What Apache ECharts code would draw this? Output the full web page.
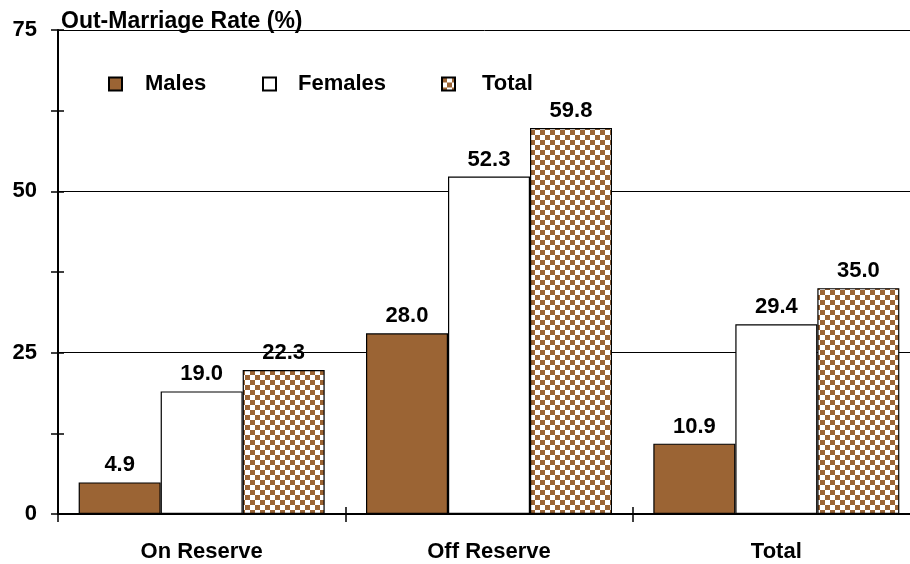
<!DOCTYPE html>
<html>
<head>
<meta charset="utf-8">
<script src="https://cdn.jsdelivr.net/npm/echarts@6/dist/echarts.min.js"></script>
<style>html,body{margin:0;padding:0;background:#fff}#c{width:910px;height:564px}</style>
</head>
<body>
<div id="c"></div>
<script>
const categories = ['On Reserve', 'Off Reserve', 'Total'];
const males = [4.9, 28.0, 10.9];
const females = [19.0, 52.3, 29.4];
const totals = [22.3, 59.8, 35.0];
const yTicks = [0, 25, 50, 75];
const seriesNames = ['Males', 'Females', 'Total'];

const BROWN = '#9B6434';
const FONT = 'Liberation Sans, Arial, sans-serif';

const pc = document.createElement('canvas');
pc.width = 10; pc.height = 10;
const g = pc.getContext('2d');
g.fillStyle = '#fff'; g.fillRect(0, 0, 10, 10);
g.fillStyle = BROWN; g.fillRect(0, 0, 5, 5); g.fillRect(5, 5, 5, 5);
const pattern = { image: pc, repeat: 'repeat' };

const chart = echarts.init(document.getElementById('c'), null, { renderer: 'canvas' });
const label = { show: true, position: 'top', distance: 6, color: '#000', fontFamily: FONT, fontWeight: 'bold', fontSize: 22, formatter: p => p.value.toFixed(1) };
const border = { borderColor: '#000', borderWidth: 1.2 };

const legendPos = [[103, 18], [257, 17], [436, 22]];
const legends = seriesNames.map((n, i) => ({
  left: legendPos[i][0], top: 68, itemWidth: 13, itemHeight: 13, icon: 'rect',
  textStyle: { fontFamily: FONT, fontWeight: 'bold', fontSize: 22, color: '#000', padding: [0, 0, 0, legendPos[i][1]] },
  data: [{ name: n, itemStyle: { borderColor: '#000', borderWidth: 2 } }]
}));

chart.setOption({
  animation: false,
  backgroundColor: '#fff',
  title: { text: 'Out-Marriage Rate (%)', left: 56, top: 5, textStyle: { fontFamily: FONT, fontWeight: 'bold', fontSize: 23, color: '#000' } },
  legend: legends,
  grid: { left: 58, top: 30, width: 862, bottom: 50, containLabel: false, outerBoundsMode: 'none' },
  xAxis: [
    { type: 'category', data: categories, boundaryGap: true,
      axisLine: { lineStyle: { color: '#000', width: 2 } },
      axisTick: { show: true, length: 8, lineStyle: { color: '#000', width: 1.5 } },
      axisLabel: { margin: 27, color: '#000', fontFamily: FONT, fontWeight: 'bold', fontSize: 22 } },
    { type: 'category', data: categories, position: 'bottom', boundaryGap: true,
      axisLine: { show: false },
      axisTick: { show: true, inside: true, length: 7, lineStyle: { color: '#000', width: 1.5 } },
      axisLabel: { show: false } }
  ],
  yAxis: [
    { type: 'value', min: 0, max: 75, interval: 25,
      axisLine: { show: true, lineStyle: { color: '#000', width: 2 } },
      axisTick: { show: false },
      splitLine: { show: true, lineStyle: { color: '#000', width: 1 } },
      axisLabel: { margin: 21, color: '#000', fontFamily: FONT, fontWeight: 'bold', fontSize: 22,
        formatter: v => yTicks.includes(v) ? String(v) : '' } },
    { type: 'value', min: 0, max: 75, interval: 12.5, position: 'left',
      axisLine: { show: false }, splitLine: { show: false }, axisLabel: { show: false },
      axisTick: { show: true, length: 7, lineStyle: { color: '#000', width: 1.5 } } },
    { type: 'value', min: 0, max: 75, interval: 12.5, position: 'left',
      axisLine: { show: false }, splitLine: { show: false }, axisLabel: { show: false },
      axisTick: { show: true, inside: true, length: 6, lineStyle: { color: '#000', width: 1.5 } } }
  ],
  series: [
    { name: 'Males', type: 'bar', data: males, barWidth: 82, barGap: '0%', itemStyle: Object.assign({ color: BROWN }, border), label },
    { name: 'Females', type: 'bar', data: females, barWidth: 82, barGap: '0%', itemStyle: Object.assign({ color: '#fff' }, border), label },
    { name: 'Total', type: 'bar', data: totals, barWidth: 82, barGap: '0%', itemStyle: Object.assign({ color: pattern }, border), label }
  ]
});
</script>
</body>
</html>
